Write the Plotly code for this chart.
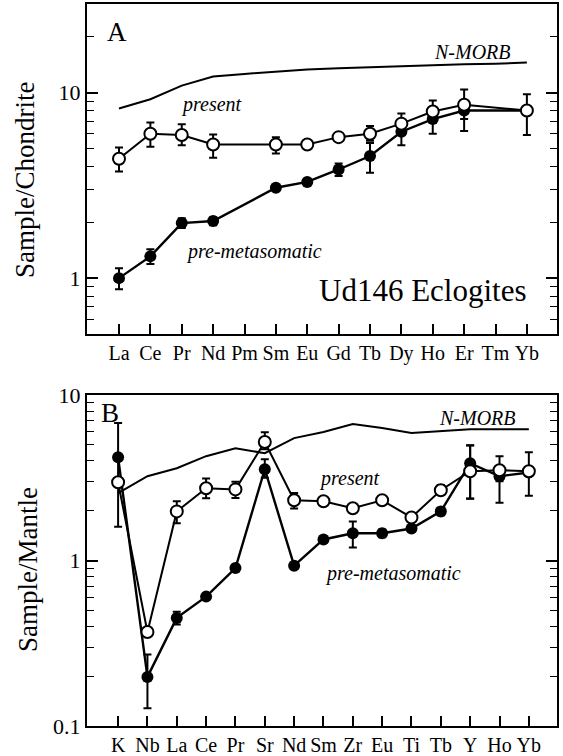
import math
import plotly.graph_objects as go

# ---------------- data ----------------
elements_A = ["La", "Ce", "Pr", "Nd", "Pm", "Sm", "Eu", "Gd", "Tb", "Dy", "Ho", "Er", "Tm", "Yb"]
present_A = [4.4, 6.0, 5.9, 5.25, None, 5.25, 5.25, 5.75, 6.0, 6.8, 7.9, 8.6, None, 8.0]
present_A_plus = [0.65, 0.9, 0.85, 0.7, 0, 0.5, 0.2, 0.2, 0.6, 0.9, 1.15, 1.8, 0, 1.8]
present_A_minus = [0.65, 0.9, 0.7, 0.8, 0, 0.55, 0.2, 0.2, 0.5, 0.7, 1.0, 1.4, 0, 2.1]
pre_A = [1.0, 1.31, 1.98, 2.03, None, 3.07, 3.3, 3.85, 4.55, 6.15, 7.2, 8.0, None, 8.0]
pre_A_plus = [0.13, 0.12, 0.12, 0.1, 0, 0.08, 0.08, 0.3, 0.8, 0.9, 1.0, 1.0, 0, 0]
pre_A_minus = [0.13, 0.12, 0.12, 0.1, 0, 0.08, 0.08, 0.3, 0.85, 0.95, 1.2, 1.8, 0, 0]
morb_A = [8.2, 9.2, 10.9, 12.2, 12.6, 13.0, 13.3, 13.5, 13.7, 13.9, 14.0, 14.2, 14.3, 14.5]

elements_B = ["K", "Nb", "La", "Ce", "Pr", "Sr", "Nd", "Sm", "Zr", "Eu", "Ti", "Tb", "Y", "Ho", "Yb"]
present_B = [2.97, 0.37, 1.98, 2.73, 2.69, 5.2, 2.31, 2.28, 2.07, 2.31, 1.82, 2.66, 3.46, 3.51, 3.46]
present_B_plus = [3.8, 0.02, 0.3, 0.4, 0.3, 0.76, 0.25, 0.1, 0.1, 0.1, 0.1, 0.2, 1.5, 0.76, 1.05]
present_B_minus = [1.37, 0.02, 0.3, 0.35, 0.3, 0.5, 0.25, 0.1, 0.1, 0.1, 0.1, 0.15, 1.1, 0.5, 1.0]
pre_B = [4.2, 0.198, 0.45, 0.605, 0.9, 3.56, 0.93, 1.34, 1.46, 1.46, 1.56, 1.98, 3.87, 3.23, 3.4]
pre_B_plus = [0, 0.072, 0.04, 0.02, 0.03, 0.53, 0.03, 0.05, 0.26, 0.08, 0.05, 0.1, 1.1, 0.5, 0]
pre_B_minus = [0, 0.07, 0.04, 0.02, 0.03, 0.4, 0.03, 0.05, 0.26, 0.08, 0.05, 0.1, 1.5, 1.0, 0]
morb_B = [2.55, 3.23, 3.61, 4.27, 4.77, 4.45, 5.49, 5.97, 6.67, 6.31, 5.89, 6.05, 6.2, 6.2, 6.2]

# ---------------- figure ----------------
W, H = 563, 756
FONT = "Liberation Serif, Times New Roman, serif"


def px(x):
    return x / W


def py(y):
    return 1 - y / H


fig = go.Figure()


def add_panel(xref, yref, cats, morb, pre, pre_p, pre_m, pres, pres_p, pres_m, msize):
    fig.add_trace(go.Scatter(x=cats, y=morb, mode="lines", line=dict(color="black", width=2),
                             xaxis=xref, yaxis=yref, showlegend=False, hoverinfo="skip"))
    fig.add_trace(go.Scatter(x=cats, y=pre, mode="lines+markers", connectgaps=True,
                             line=dict(color="black", width=2.4),
                             marker=dict(symbol="circle", size=msize, color="black"),
                             error_y=dict(type="data", symmetric=False, array=pre_p, arrayminus=pre_m,
                                          color="black", thickness=2, width=4),
                             xaxis=xref, yaxis=yref, showlegend=False))
    fig.add_trace(go.Scatter(x=cats, y=pres, mode="lines+markers", connectgaps=True,
                             line=dict(color="black", width=2),
                             marker=dict(symbol="circle", size=msize, color="white",
                                         line=dict(color="black", width=2)),
                             error_y=dict(type="data", symmetric=False, array=pres_p, arrayminus=pres_m,
                                          color="black", thickness=2, width=4),
                             xaxis=xref, yaxis=yref, showlegend=False))


add_panel("x", "y", elements_A, morb_A, pre_A, pre_A_plus, pre_A_minus,
          present_A, present_A_plus, present_A_minus, 12)
add_panel("x2", "y2", elements_B, morb_B, pre_B, pre_B_plus, pre_B_minus,
          present_B, present_B_plus, present_B_minus, 12)

minor_vals = [m * 10 ** e for e in range(-2, 3) for m in range(2, 10)]

xcommon = dict(type="category", showline=True, linecolor="black", linewidth=2, mirror=True,
               ticks="inside", ticklen=10, tickwidth=1.5, tickcolor="black", showgrid=False,
               zeroline=False, automargin=False,
               tickfont=dict(family=FONT, size=20, color="black"))
ycommon = dict(type="log", showline=True, linecolor="black", linewidth=2, mirror="allticks",
               ticks="inside", ticklen=11, tickwidth=1.5, tickcolor="black", showgrid=False,
               zeroline=False, automargin=False,
               tickfont=dict(family=FONT, size=22, color="black"),
               tickmode="array",
               minor=dict(ticks="inside", ticklen=7, tickwidth=1.2, tickcolor="black",
                          tickvals=minor_vals, showgrid=False))

fig.update_layout(
    width=W, height=H, margin=dict(l=0, r=0, t=0, b=0, pad=0, autoexpand=False),
    paper_bgcolor="white", plot_bgcolor="white", showlegend=False,
    font=dict(family=FONT, color="black"),
    xaxis=dict(xcommon, domain=[px(87), px(557)], anchor="y",
               range=[-1.02, 13.96]),
    yaxis=dict(ycommon, domain=[py(334), py(4)], anchor="x",
               range=[math.log10(0.5), math.log10(30)],
               tickvals=[1, 10], ticktext=["1", "10"]),
    xaxis2=dict(xcommon, domain=[px(87), px(557)], anchor="y2",
                range=[-1.06, 14.96]),
    yaxis2=dict(ycommon, domain=[py(726), py(395)], anchor="x2",
                range=[-1, 1],
                tickvals=[0.1, 1, 10], ticktext=["0.1", "1", "10"]),
)


def label(x, y, text, size, italic=False, angle=0):
    fig.add_annotation(xref="paper", yref="paper", x=px(x), y=py(y), text=text,
                       showarrow=False, xanchor="center", yanchor="middle", textangle=angle,
                       font=dict(family=FONT, size=size, color="black",
                                 style="italic" if italic else "normal"))


label(117, 32, "A", 27)
label(472, 52, "N-MORB", 20, italic=True)
label(211, 105, "present", 20, italic=True)
label(254, 252, "pre-metasomatic", 20, italic=True)
label(423, 290, "Ud146 Eclogites", 31)
label(25, 180, "Sample/Chondrite", 27, angle=-90)

label(110, 413, "B", 27)
label(477, 418, "N-MORB", 20, italic=True)
label(349, 478, "present", 20, italic=True)
label(393, 573, "pre-metasomatic", 20, italic=True)
label(28, 570, "Sample/Mantle", 27, angle=-90)

fig.write_html("out.html")
